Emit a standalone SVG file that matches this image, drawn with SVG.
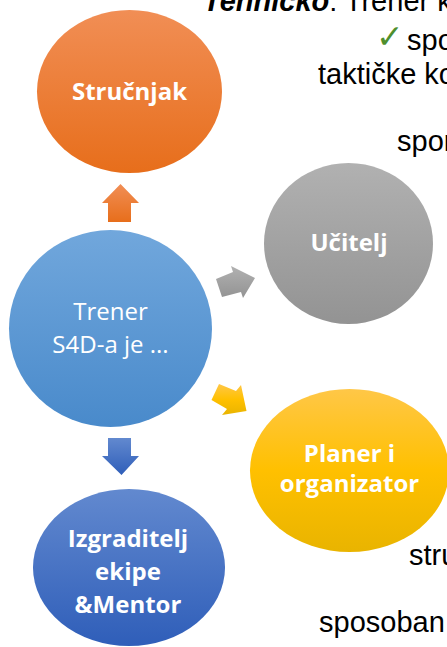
<svg xmlns="http://www.w3.org/2000/svg" width="447" height="647" viewBox="0 0 447 647">
  <style>
    .lbl { font-family: "Open Sans", "Liberation Sans", sans-serif; font-size: 24px; fill: #ffffff; text-anchor: middle; }
    .b { font-weight: bold; }
    .side { font-family: "Liberation Sans", Arial, sans-serif; font-size: 29px; fill: #000000; }
  </style>
  <defs>
    <linearGradient id="gOrange" x1="0" y1="0" x2="0" y2="1">
      <stop offset="0" stop-color="#F18E55"/>
      <stop offset="1" stop-color="#E76E1B"/>
    </linearGradient>
    <linearGradient id="gGray" x1="0" y1="0" x2="0" y2="1">
      <stop offset="0" stop-color="#B1B1B1"/>
      <stop offset="1" stop-color="#939393"/>
    </linearGradient>
    <linearGradient id="gYellow" x1="0" y1="0" x2="0" y2="1">
      <stop offset="0" stop-color="#FFC747"/>
      <stop offset="0.5" stop-color="#FFC000"/>
      <stop offset="1" stop-color="#E9B400"/>
    </linearGradient>
    <linearGradient id="gBlue" x1="0" y1="0" x2="0" y2="1">
      <stop offset="0" stop-color="#71A7DC"/>
      <stop offset="1" stop-color="#498ACB"/>
    </linearGradient>
    <linearGradient id="gNavy" x1="0" y1="0" x2="0" y2="1">
      <stop offset="0" stop-color="#6289CF"/>
      <stop offset="1" stop-color="#2F5EB9"/>
    </linearGradient>
  </defs>

  <!-- text running along the right edge -->
  <g id="side-text" class="side">
    <text x="203" y="11"><tspan font-weight="bold" font-style="italic">Tehničko</tspan>: Trener k</text>
    <text x="376" y="48" font-family="DejaVu Sans, sans-serif" font-size="33" fill="#4E8F2E">✓</text>
    <text x="407" y="50">spo</text>
    <text x="318" y="84">taktičke ko</text>
    <text x="397" y="151">spor</text>
    <text x="409" y="565">stru</text>
    <text x="319" y="632">sposoban</text>
  </g>

  <!-- block arrows from the centre -->
  <g id="connectors">
    <polygon fill="url(#gOrange)" points="108,222 108,203 102,203 120.5,184 139,203 131,203 131,222"/>
    <polygon fill="url(#gGray)" points="216,279 233,272 231,266 255,278 243,298 241,292 222,297"/>
    <polygon fill="url(#gYellow)" points="219,384 236,391 241,385 246.5,411 222,415 227,409 211.5,400"/>
    <polygon fill="url(#gNavy)" points="108,438 131,438 131,456 139,456 121.5,475 102,456 108,456"/>
  </g>

  <g id="node-strucnjak">
    <ellipse cx="129.5" cy="91.5" rx="92.5" ry="81.5" fill="url(#gOrange)"/>
    <text class="lbl b" x="129.5" y="100">Stručnjak</text>
  </g>

  <g id="node-trener">
    <ellipse cx="110.5" cy="328.5" rx="101.5" ry="98.5" fill="url(#gBlue)"/>
    <text class="lbl" x="110.5" y="320">Trener</text>
    <text class="lbl" x="110.5" y="353">S4D-a je ...</text>
  </g>

  <g id="node-ucitelj">
    <ellipse cx="348.5" cy="243.5" rx="84.5" ry="80.5" fill="url(#gGray)"/>
    <text class="lbl b" x="349" y="251">Učitelj</text>
  </g>

  <g id="node-planer">
    <ellipse cx="349.5" cy="470.5" rx="99.5" ry="81.5" fill="url(#gYellow)"/>
    <text class="lbl b" x="349.5" y="462">Planer i</text>
    <text class="lbl b" x="349.5" y="492">organizator</text>
  </g>

  <g id="node-izgraditelj">
    <ellipse cx="129" cy="567.5" rx="96" ry="78.5" fill="url(#gNavy)"/>
    <text class="lbl b" x="128" y="547">Izgraditelj</text>
    <text class="lbl b" x="128" y="580">ekipe</text>
    <text class="lbl b" x="128" y="613">&amp;Mentor</text>
  </g>
</svg>
